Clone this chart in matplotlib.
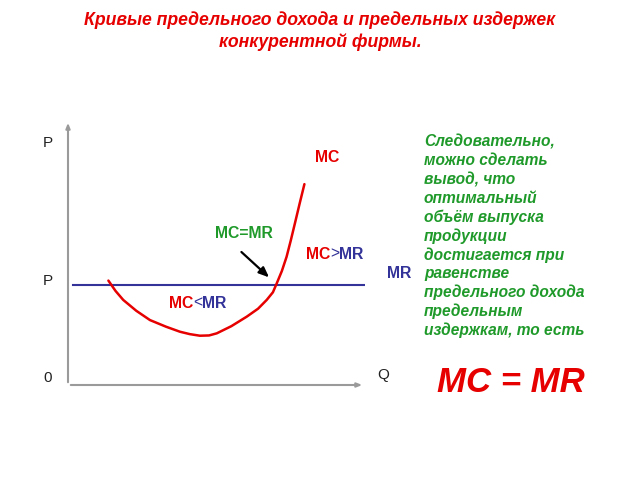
import matplotlib
matplotlib.use("Agg")
import matplotlib.pyplot as plt

plt.rcParams['font.family'] = ['Liberation Sans', 'DejaVu Sans']

RED = "#e60000"
BLUE = "#333399"
GREEN = "#1f9a2a"
GRAY = "#9a9a9a"

# MR level and its span along Q
mr_level = 3.77
mr_q = [0.17, 10.0]

# MC curve
mc_q = [1.36, 1.6, 1.86, 2.3, 2.76, 3.3, 3.77, 4.1, 4.44, 4.75, 5.01, 5.5, 6.02, 6.4,
        6.69, 6.9, 7.03, 7.2, 7.36, 7.5, 7.64, 7.8, 7.96]
mc_p = [3.94, 3.55, 3.21, 2.8, 2.45, 2.2, 2.01, 1.92, 1.86, 1.87, 1.95, 2.22, 2.58, 2.88,
        3.21, 3.5, 3.84, 4.3, 4.84, 5.45, 6.10, 6.85, 7.58]

conclusion = [
    "Следовательно,",
    "можно сделать",
    "вывод, что",
    "оптимальный",
    "объём выпуска",
    "продукции",
    "достигается при",
    "равенстве",
    "предельного дохода",
    "предельным",
    "издержкам, то есть",
]

fig = plt.figure(figsize=(6.4, 4.8), dpi=100)
ax = fig.add_axes([68 / 640, 95 / 480, 297 / 640, 265 / 480])
ax.set_xlim(0, 10)
ax.set_ylim(0, 10)
ax.axis("off")

# axes with arrows
ax.annotate("", xy=(0, 10), xytext=(0, 0),
            arrowprops=dict(arrowstyle="-|>,head_length=0.3,head_width=0.12", color=GRAY, lw=1.5))
ax.annotate("", xy=(10, 0), xytext=(0, 0),
            arrowprops=dict(arrowstyle="-|>,head_length=0.3,head_width=0.12", color=GRAY, lw=1.5))

ax.plot(mr_q, [mr_level, mr_level], color=BLUE, lw=1.5)
ax.plot(mc_q, mc_p, color=RED, lw=1.8, solid_capstyle="round", solid_joinstyle="round")

ax.annotate("", xy=(6.84, 3.99), xytext=(5.77, 5.09),
            arrowprops=dict(arrowstyle="-|>,head_length=0.6,head_width=0.25", color="black", lw=1.6))

# axis labels
lab = dict(fontsize=11, color="#222222", ha="center", va="center", clip_on=False)
ax.text(-0.67, 9.13, "P", **lab)
ax.text(-0.67, 3.92, "P", **lab)
ax.text(-0.67, 0.26, "0", **lab)
ax.text(10.61, 0.38, "Q", **lab)

bold = dict(fontsize=11.3, fontweight="bold", va="center", clip_on=False)
ax.text(8.72, 8.57, "MC", color=RED, ha="center", **bold)
ax.text(5.93, 5.70, "MC=MR", color=GREEN, ha="center", **bold)
ax.text(10.74, 4.19, "MR", color=BLUE, ha="left", **bold)


def mixed(x, y, op):
    t1 = ax.text(x, y, "MC", color=RED, ha="left", **bold)
    t2 = ax.annotate(op, xy=(1, 0), xycoords=t1, va="bottom", ha="left",
                     fontsize=11.3, color=BLUE)
    ax.annotate("MR", xy=(1, 0), xycoords=t2, va="bottom", ha="left",
                fontsize=11.3, fontweight="bold", color=BLUE)


mixed(8.01, 4.94, ">")
mixed(3.40, 3.09, "<")

# title
title = ["Кривые предельного дохода и предельных издержек", "конкурентной фирмы."]
for i, line in enumerate(title):
    fig.text(0.5, 1 - (20 + 22 * i) / 480, line, ha="center", va="center",
             fontsize=12.7, fontweight="bold", fontstyle="italic", color=RED)

# conclusion text
for i, line in enumerate(conclusion):
    fig.text(424 / 640, 1 - (142 + 18.8 * i) / 480, line, ha="left", va="center",
             fontsize=11.2, fontweight="bold", fontstyle="italic", color=GREEN)

fig.text(511 / 640, 1 - 382 / 480, "MC = MR", ha="center", va="center",
         fontsize=25, fontweight="bold", fontstyle="italic", color=RED)

fig.savefig("out.png", dpi=100)
